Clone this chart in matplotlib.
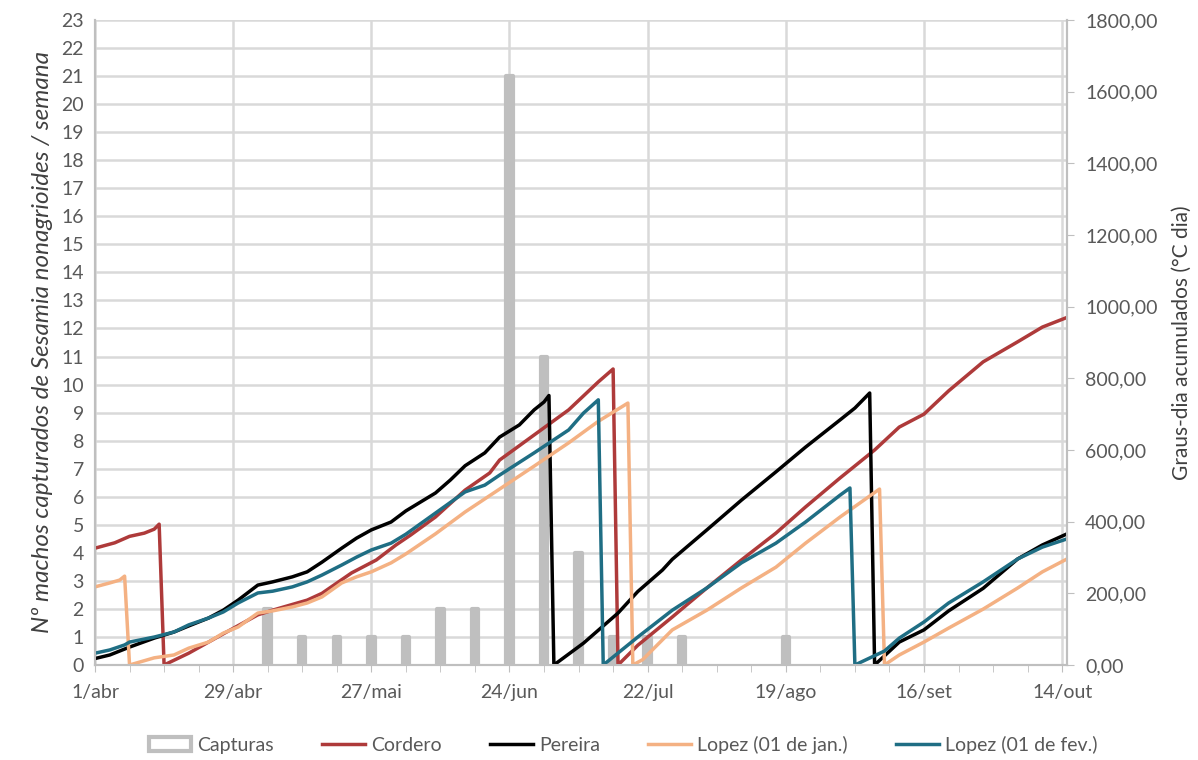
import pandas as pd
import matplotlib
matplotlib.use("Agg")
import matplotlib.pyplot as plt
from matplotlib.patches import Patch
from matplotlib.ticker import FuncFormatter, MultipleLocator

plt.rcParams["font.family"] = ["Lato", "DejaVu Sans"]

START = pd.Timestamp("2019-04-01")

# weekly captures (left axis), day offsets from 1/abr
capture_days = [35, 42, 49, 56, 63, 70, 77, 84, 91, 98, 105, 112, 119, 140]
captures = [2, 1, 1, 1, 1, 2, 2, 21, 11, 4, 1, 1, 1, 1]

# accumulated degree-days (right axis), day offsets from 1/abr
cordero_days = [0, 4, 7, 10, 12, 13, 14, 19, 26, 33, 36, 43, 46, 52, 57, 61, 64, 69, 75,
                80, 82, 89, 96, 102, 105, 106, 110, 117, 124, 131, 138, 144, 151, 158,
                163, 168, 173, 180, 187, 192, 197]
cordero_dd = [326, 341, 359, 368, 379, 393, 0, 33, 87, 140, 153, 181, 200, 257, 293, 335,
              363, 413, 488, 536, 572, 642, 712, 790, 826, 0, 55, 134, 215, 293, 368, 441,
              522, 600, 664, 700, 765, 846, 902, 943, 970]

pereira_days = [0, 3, 7, 12, 16, 19, 23, 26, 29, 33, 36, 40, 43, 46, 50, 53, 56, 60, 63,
                69, 72, 75, 79, 82, 86, 89, 91, 92, 93, 99, 106, 110, 115, 117, 124, 131,
                138, 144, 151, 154, 157, 158, 163, 168, 173, 180, 187, 192, 197]
pereira_dd = [18, 28, 50, 75, 92, 109, 131, 153, 181, 223, 232, 246, 260, 287, 326, 354,
              377, 399, 430, 480, 516, 556, 592, 636, 670, 712, 734, 752, 0, 61, 145, 205,
              265, 295, 377, 460, 539, 608, 684, 717, 759, 0, 64, 98, 151, 214, 296, 335,
              366]

lopez_jan_days = [0, 3, 5, 6, 7, 12, 16, 19, 23, 26, 29, 33, 36, 40, 43, 46, 50, 53, 56,
                  60, 63, 69, 75, 82, 89, 96, 102, 108, 109, 111, 117, 124, 131, 138, 144,
                  151, 159, 160, 163, 168, 173, 180, 187, 192, 197]
lopez_jan_dd = [218, 229, 237, 248, 0, 20, 28, 47, 64, 89, 106, 145, 151, 162, 173, 190,
                229, 246, 260, 285, 310, 366, 427, 491, 555, 620, 680, 731, 0, 15, 98, 153,
                215, 273, 340, 413, 491, 0, 28, 64, 103, 156, 215, 260, 296]

lopez_fev_days = [0, 3, 6, 7, 12, 16, 19, 23, 26, 29, 33, 36, 40, 43, 46, 50, 53, 56, 60,
                  63, 69, 75, 79, 82, 89, 96, 99, 102, 103, 110, 117, 124, 131, 138, 144,
                  151, 153, 154, 160, 163, 168, 173, 180, 187, 192, 197]
lopez_fev_dd = [33, 42, 56, 64, 78, 92, 112, 131, 148, 173, 201, 206, 218, 232, 251, 279,
                301, 321, 340, 365, 424, 483, 502, 530, 592, 656, 703, 740, 0, 78, 153, 215,
                285, 340, 399, 474, 494, 0, 39, 75, 120, 173, 232, 296, 329, 352]

tick_labels = ["1/abr", "29/abr", "27/mai", "24/jun", "22/jul", "19/ago", "16/set", "14/out"]


def to_dates(days):
    return START + pd.to_timedelta(days, unit="D")


GRID = "#D9D9D9"
AXIS = "#BFBFBF"
TEXT = "#595959"

fig = plt.figure(figsize=(11.98, 7.6), dpi=100)
ax = fig.add_axes([0.0793, 0.125, 0.8114, 0.8487])
ax2 = ax.twinx()

# bars
ax.bar(to_dates(capture_days), captures, width=1.3, color=AXIS, edgecolor=AXIS,
       linewidth=3, joinstyle="round", zorder=3)

ax.set_ylim(0, 23)
ax.yaxis.set_major_locator(MultipleLocator(1))
ax.set_xlim(to_dates([0])[0], to_dates([197])[0])
ax.set_xticks(to_dates(range(0, 197, 28)))
ax.set_xticklabels(tick_labels)
ax.set_xticks(to_dates(range(0, 198, 7)), minor=True)
ax.grid(True, which="major", color=GRID, linewidth=1.8, zorder=0)
ax.set_axisbelow(True)

ax.tick_params(axis="x", which="both", direction="out", length=5, color=AXIS,
               labelsize=14, labelcolor=TEXT, pad=9)
ax.tick_params(axis="y", length=0, labelsize=14, labelcolor=TEXT, pad=8)
ax.set_ylabel("Nº machos capturados de Sesamia nonagrioides / semana", fontsize=17.5,
              color="#404040", style="italic", labelpad=6)

# degree-day lines
ax2.plot(to_dates(cordero_days), cordero_dd, color="#AE3A3A", lw=2.5, label="Cordero")
ax2.plot(to_dates(pereira_days), pereira_dd, color="#000000", lw=2.5, label="Pereira")
ax2.plot(to_dates(lopez_jan_days), lopez_jan_dd, color="#F4B183", lw=2.5,
         label="Lopez (01 de jan.)")
ax2.plot(to_dates(lopez_fev_days), lopez_fev_dd, color="#1F6E84", lw=2.5,
         label="Lopez (01 de fev.)")

ax2.set_ylim(0, 1800)
ax2.yaxis.set_major_locator(MultipleLocator(200))
ax2.yaxis.set_major_formatter(FuncFormatter(lambda v, p: f"{v:.2f}".replace(".", ",")))
ax2.tick_params(axis="y", direction="out", length=5, color=AXIS, labelsize=14,
                labelcolor=TEXT, pad=8)
ax2.set_ylabel("Graus-dia acumulados (°C dia)", fontsize=15, color="#404040",
               labelpad=10)

for a in (ax, ax2):
    a.spines["top"].set_visible(False)
    for s in ("left", "right", "bottom"):
        a.spines[s].set_color(AXIS)
        a.spines[s].set_linewidth(1.5)

handles = [Patch(facecolor="white", edgecolor=AXIS, linewidth=3, joinstyle="round",
                 label="Capturas")]
handles += ax2.get_lines()
fig.legend(handles=handles, labels=[h.get_label() for h in handles], loc="center",
           bbox_to_anchor=(0.52, 0.02), ncol=5, frameon=False, fontsize=14,
           handlelength=2.2, handletextpad=0.3, columnspacing=2.5,
           labelcolor=TEXT)

fig.savefig("out.png", dpi=100)
